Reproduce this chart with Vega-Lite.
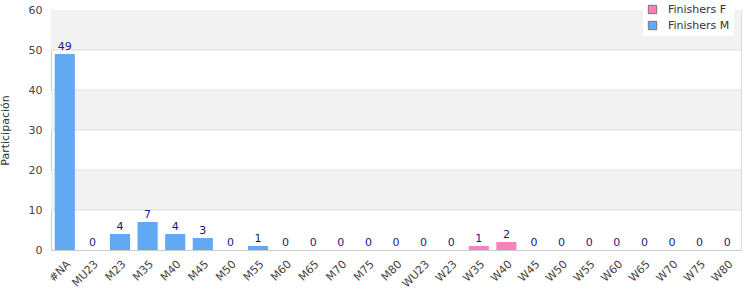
{
  "$schema": "https://vega.github.io/schema/vega-lite/v6.json",
  "autosize": {"type": "none"},
  "padding": {"left": 51, "top": 10, "right": 9, "bottom": 50},
  "width": 690,
  "height": 240,
  "config": {
    "font": "DejaVu Sans",
    "view": {"stroke": "#dddddd"},
    "axis": {"labelFont": "DejaVu Sans", "titleFont": "DejaVu Sans", "labelColor": "#444444", "labelFontSize": 11, "domainColor": "#cccccc", "ticks": false},
    "axisY": {"labelOverlap": false, "grid": false}
  },
  "datasets": {
    "bars": [
      {"cat": "#NA", "serie": "Finishers M", "value": 49},
      {"cat": "MU23", "serie": "Finishers M", "value": 0},
      {"cat": "M23", "serie": "Finishers M", "value": 4},
      {"cat": "M35", "serie": "Finishers M", "value": 7},
      {"cat": "M40", "serie": "Finishers M", "value": 4},
      {"cat": "M45", "serie": "Finishers M", "value": 3},
      {"cat": "M50", "serie": "Finishers M", "value": 0},
      {"cat": "M55", "serie": "Finishers M", "value": 1},
      {"cat": "M60", "serie": "Finishers M", "value": 0},
      {"cat": "M65", "serie": "Finishers M", "value": 0},
      {"cat": "M70", "serie": "Finishers M", "value": 0},
      {"cat": "M75", "serie": "Finishers M", "value": 0},
      {"cat": "M80", "serie": "Finishers M", "value": 0},
      {"cat": "WU23", "serie": "Finishers F", "value": 0},
      {"cat": "W23", "serie": "Finishers F", "value": 0},
      {"cat": "W35", "serie": "Finishers F", "value": 1},
      {"cat": "W40", "serie": "Finishers F", "value": 2},
      {"cat": "W45", "serie": "Finishers F", "value": 0},
      {"cat": "W50", "serie": "Finishers F", "value": 0},
      {"cat": "W55", "serie": "Finishers F", "value": 0},
      {"cat": "W60", "serie": "Finishers F", "value": 0},
      {"cat": "W65", "serie": "Finishers F", "value": 0},
      {"cat": "W70", "serie": "Finishers F", "value": 0},
      {"cat": "W75", "serie": "Finishers F", "value": 0},
      {"cat": "W80", "serie": "Finishers F", "value": 0}
    ],
    "bands": [
      {"y0": 10, "y1": 20},
      {"y0": 30, "y1": 40},
      {"y0": 50, "y1": 60}
    ],
    "grid": [{"g": 10}, {"g": 20}, {"g": 30}, {"g": 40}, {"g": 50}]
  },
  "layer": [
    {
      "data": {"name": "bands"},
      "mark": {"type": "rect", "color": "#f2f2f2"},
      "encoding": {
        "y": {"field": "y0", "type": "quantitative"},
        "y2": {"field": "y1"}
      }
    },
    {
      "data": {"name": "grid"},
      "mark": {"type": "rule", "color": "#dddddd", "strokeWidth": 1},
      "encoding": {
        "y": {"field": "g", "type": "quantitative"}
      }
    },
    {
      "data": {"name": "bars"},
      "mark": {"type": "bar"},
      "encoding": {
        "x": {"field": "cat", "type": "nominal", "sort": null, "scale": {"paddingInner": 0.27, "paddingOuter": 0.135},
          "axis": {"title": null, "labelAngle": -45, "labelPadding": 8, "labelOverlap": false, "domainColor": "#cccccc"}},
        "y": {"field": "value", "type": "quantitative", "scale": {"domain": [0, 60], "nice": false},
          "axis": {"title": "Participación", "titleFontSize": 11, "titleFontWeight": "normal", "titleColor": "#333333", "titlePadding": 18, "tickCount": 7, "values": [0, 10, 20, 30, 40, 50, 60], "labelOverlap": false, "labelSeparation": -20, "grid": false, "labelPadding": 9, "domainColor": "#cccccc"}},
        "color": {"field": "serie", "type": "nominal",
          "scale": {"domain": ["Finishers F", "Finishers M"], "range": ["#f283bb", "#62a9f4"]},
          "legend": {"title": null, "orient": "none", "legendX": 592, "legendY": -10, "fillColor": "white", "padding": 4, "symbolType": "square", "symbolSize": 70, "symbolStrokeColor": "#777777", "symbolStrokeWidth": 1, "labelFontSize": 11, "labelColor": "#333333", "rowPadding": 3, "labelOffset": 10}}
      }
    },
    {
      "data": {"name": "bars"},
      "mark": {"type": "text", "dy": -7, "color": "#1a1a8a", "fontSize": 11},
      "encoding": {
        "x": {"field": "cat", "type": "nominal", "sort": null},
        "y": {"field": "value", "type": "quantitative"},
        "text": {"field": "value", "type": "quantitative"}
      }
    }
  ]
}
